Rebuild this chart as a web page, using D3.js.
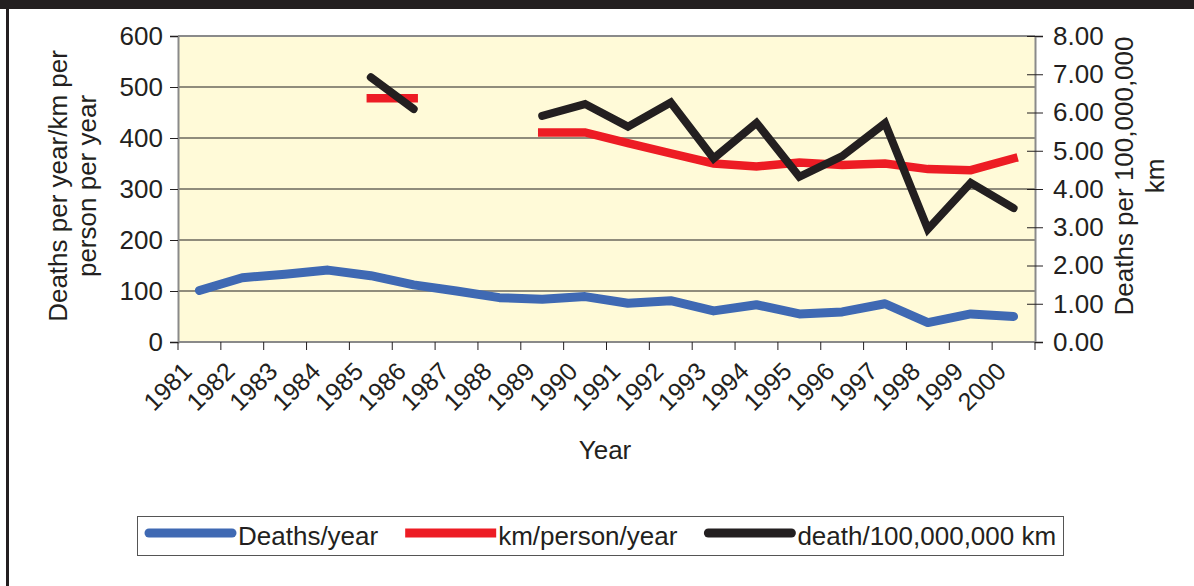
<!DOCTYPE html>
<html lang="en">
<head>
    <meta charset="UTF-8">
    <script src="https://d3js.org/d3.v7.min.js"></script>
    <style>
        body {
            margin: 0;
            background: #fff;
            font-family: "Liberation Sans", Arial, sans-serif;
        }
        svg text {
            fill: #231f20;
        }
    </style>
</head>
<body>
    <svg width="1194" height="586"></svg>

    <script>
        // data
        const years = ["1981","1982","1983","1984","1985","1986","1987","1988","1989","1990",
                       "1991","1992","1993","1994","1995","1996","1997","1998","1999","2000"];
        const deathsPerYear = [101, 126, 133, 141, 130, 112, 100, 87, 84, 89,
                               76, 81, 61, 73, 55, 59, 75, 38, 55, 50];
        const kmPerPerson = [null, null, null, null, 478, 478, null, null, 411, 411,
                             390, 370, 350, 344, 352, 347, 350, 339, 337, 360];
        const deathPer100M = [null, null, null, null, 6.92, 6.09, null, null, 5.91, 6.22,
                              5.63, 6.26, 4.80, 5.73, 4.32, 4.86, 5.72, 2.95, 4.16, 3.50];
        const leftTicks = [0, 100, 200, 300, 400, 500, 600];
        const rightTicks = [0, 1, 2, 3, 4, 5, 6, 7, 8];
        const seriesNames = ["Deaths/year", "km/person/year", "death/100,000,000 km"];

        const svg = d3.select("svg");
        const width = +svg.attr("width");
        const height = +svg.attr("height");
        const plot = { left: 178, right: 1035, top: 36, bottom: 342 };
        const ink = "#231f20";
        const axisGrey = "#8a8a8a";
        const colors = ["#3f69b3", "#ed1c24", ink];

        // frame of the page
        svg.append("rect").attr("width", width).attr("height", height).attr("fill", "#fff");
        svg.append("rect").attr("x", 0).attr("y", 0).attr("width", width).attr("height", 9).attr("fill", ink);
        svg.append("rect").attr("x", 6).attr("y", 0).attr("width", 3).attr("height", height).attr("fill", ink);

        const x = d3.scaleBand().domain(years).range([plot.left, plot.right]).padding(0);
        const yL = d3.scaleLinear().domain([0, 600]).range([plot.bottom, plot.top]);
        const yR = d3.scaleLinear().domain([0, 8]).range([plot.bottom, plot.top]);
        const cx = d => x(d) + x.bandwidth() / 2;

        svg.append("rect")
            .attr("x", plot.left).attr("y", plot.top)
            .attr("width", plot.right - plot.left).attr("height", plot.bottom - plot.top)
            .attr("fill", "#fffad8");

        // gridlines
        svg.append("g").selectAll("line")
            .data(leftTicks.filter(d => d > 0 && d < 600))
            .join("line")
            .attr("x1", plot.left).attr("x2", plot.right)
            .attr("y1", d => yL(d)).attr("y2", d => yL(d))
            .attr("stroke", ink).attr("stroke-width", 1.2);
        svg.append("line")
            .attr("x1", plot.left).attr("x2", plot.right)
            .attr("y1", plot.top).attr("y2", plot.top)
            .attr("stroke", axisGrey).attr("stroke-width", 2);

        // left axis
        const gL = svg.append("g")
            .attr("transform", `translate(${plot.left},0)`)
            .call(d3.axisLeft(yL).tickValues(leftTicks).tickSize(8).tickPadding(7));
        gL.select(".domain").attr("stroke", axisGrey).attr("stroke-width", 2);
        gL.selectAll(".tick line").attr("stroke", ink);
        gL.selectAll(".tick text").attr("font-size", 26).attr("font-family", "Liberation Sans").style("fill", ink);

        // right axis
        const gR = svg.append("g")
            .attr("transform", `translate(${plot.right},0)`)
            .call(d3.axisRight(yR).tickValues(rightTicks).tickFormat(d3.format(".2f")).tickSize(8).tickPadding(10));
        gR.select(".domain").attr("stroke", axisGrey).attr("stroke-width", 2);
        gR.selectAll(".tick line").attr("x1", -8).attr("stroke", ink);
        gR.selectAll(".tick text").attr("font-size", 26).attr("font-family", "Liberation Sans").style("fill", ink);

        // bottom axis: ticks on band edges, labels rotated
        const gB = svg.append("g");
        gB.append("line")
            .attr("x1", plot.left).attr("x2", plot.right)
            .attr("y1", plot.bottom).attr("y2", plot.bottom)
            .attr("stroke", axisGrey).attr("stroke-width", 2);
        gB.selectAll("line.tk")
            .data(years.map(d => x(d)).concat([plot.right]))
            .join("line")
            .attr("class", "tk")
            .attr("x1", d => d).attr("x2", d => d)
            .attr("y1", plot.bottom).attr("y2", plot.bottom + 8)
            .attr("stroke", ink);
        gB.selectAll("text")
            .data(years)
            .join("text")
            .attr("transform", d => `translate(${cx(d) - 6},373) rotate(-45)`)
            .attr("text-anchor", "end")
            .attr("font-size", 25)
            .text(d => d);

        // axis titles
        svg.append("text")
            .attr("x", 605).attr("y", 459)
            .attr("text-anchor", "middle").attr("font-size", 26)
            .text("Year");

        const tL = svg.append("text")
            .attr("transform", "translate(67,186) rotate(-90)")
            .attr("text-anchor", "middle").attr("font-size", 26);
        tL.append("tspan").attr("x", 0).attr("dy", 0).text("Deaths per year/km per");
        tL.append("tspan").attr("x", 0).attr("dy", 29).text("person per year");

        const tR = svg.append("text")
            .attr("transform", "translate(1133,176) rotate(-90)")
            .attr("text-anchor", "middle").attr("font-size", 26);
        tR.append("tspan").attr("x", 0).attr("dy", 0).text("Deaths per 100,000,000");
        tR.append("tspan").attr("x", 0).attr("dy", 31).text("km");

        // series
        const lineL = d3.line().defined(d => d.v != null).x(d => cx(d.year)).y(d => yL(d.v));
        const lineR = d3.line().defined(d => d.v != null).x(d => cx(d.year)).y(d => yR(d.v));
        const pack = arr => years.map((year, i) => ({ year, v: arr[i] }));

        svg.append("path")
            .datum(pack(deathsPerYear))
            .attr("d", lineL)
            .attr("fill", "none").attr("stroke", colors[0]).attr("stroke-width", 9)
            .attr("stroke-linecap", "round").attr("stroke-linejoin", "round");

        svg.append("path")
            .datum(pack(kmPerPerson))
            .attr("d", lineL)
            .attr("fill", "none").attr("stroke", colors[1]).attr("stroke-width", 8.5)
            .attr("stroke-linecap", "square").attr("stroke-linejoin", "miter");

        svg.append("path")
            .datum(pack(deathPer100M))
            .attr("d", lineR)
            .attr("fill", "none").attr("stroke", colors[2]).attr("stroke-width", 8)
            .attr("stroke-linecap", "round").attr("stroke-linejoin", "miter");

        // legend
        const legend = svg.append("g");
        legend.append("rect")
            .attr("x", 137.5).attr("y", 516.5).attr("width", 926).attr("height", 39)
            .attr("fill", "#fff").attr("stroke", "#555").attr("stroke-width", 1);
        let lx = 145;
        seriesNames.forEach((name, i) => {
            const cap = i === 1 ? "butt" : "round";
            const inset = i === 1 ? 0 : 4;
            legend.append("line")
                .attr("x1", lx + inset).attr("x2", lx + 91 - inset)
                .attr("y1", 533).attr("y2", 533)
                .attr("stroke", colors[i]).attr("stroke-width", 9)
                .attr("stroke-linecap", cap);
            const t = legend.append("text")
                .attr("x", lx + 93).attr("y", 545)
                .attr("font-size", 26)
                .text(name);
            lx = lx + 93 + t.node().getComputedTextLength() + 27;
        });
    </script>
</body>
</html>
